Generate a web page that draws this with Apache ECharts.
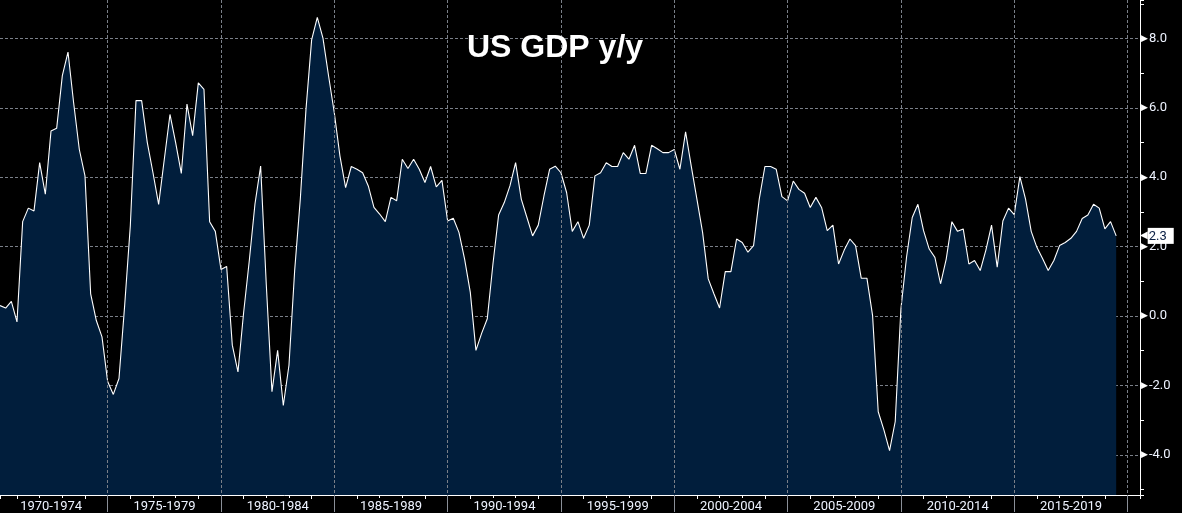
<!DOCTYPE html>
<html>
<head>
<meta charset="utf-8">
<script src="https://cdn.jsdelivr.net/npm/echarts@6/dist/echarts.min.js"></script>
<style>
html,body{margin:0;padding:0;background:#000;}
#chart{width:1182px;height:513px;}
</style>
</head>
<body>
<div id="chart"></div>
<script>
// US real GDP, % change year over year, quarterly from 1970 Q1 to 2019 Q2
const firstYear = 1970;
const gdpYoY = [
  0.30, 0.23, 0.42, -0.17,   // 1970
  2.72, 3.11, 3.03, 4.42,    // 1971
  3.51, 5.33, 5.41, 6.93,    // 1972
  7.61, 6.14, 4.80, 4.04,    // 1973
  0.64, -0.13, -0.60, -1.89, // 1974
  -2.26, -1.80, 0.30, 2.60,  // 1975
  6.21, 6.21, 5.00, 4.13,    // 1976
  3.22, 4.52, 5.81, 5.00,    // 1977
  4.11, 6.11, 5.20, 6.72,    // 1978
  6.53, 2.72, 2.44, 1.34,    // 1979
  1.43, -0.84, -1.61, 0.10,  // 1980
  1.60, 3.23, 4.32, 0.90,    // 1981
  -2.18, -0.99, -2.58, -1.42,// 1982
  1.30, 3.37, 5.95, 7.96,    // 1983
  8.61, 8.01, 6.91, 5.86,    // 1984
  4.61, 3.70, 4.31, 4.23,    // 1985
  4.13, 3.75, 3.13, 2.94,    // 1986
  2.72, 3.42, 3.32, 4.52,    // 1987
  4.25, 4.52, 4.23, 3.85,    // 1988
  4.31, 3.72, 3.91, 2.74,    // 1989
  2.82, 2.41, 1.64, 0.69,    // 1990
  -0.99, -0.50, -0.08, 1.50, // 1991
  2.91, 3.27, 3.75, 4.42,    // 1992
  3.37, 2.84, 2.31, 2.62,    // 1993
  3.46, 4.23, 4.32, 4.13,    // 1994
  3.56, 2.44, 2.72, 2.24,    // 1995
  2.62, 4.04, 4.13, 4.42,    // 1996
  4.31, 4.31, 4.71, 4.52,    // 1997
  4.92, 4.11, 4.11, 4.92,    // 1998
  4.82, 4.71, 4.71, 4.80,    // 1999
  4.23, 5.31, 4.32, 3.37,    // 2000
  2.41, 1.07, 0.64, 0.23,    // 2001
  1.28, 1.28, 2.22, 2.12,    // 2002
  1.84, 2.03, 3.37, 4.31,    // 2003
  4.31, 4.23, 3.44, 3.32,    // 2004
  3.89, 3.65, 3.54, 3.13,    // 2005
  3.42, 3.13, 2.46, 2.62,    // 2006
  1.50, 1.90, 2.22, 2.03,    // 2007
  1.09, 1.09, 0.02, -2.76,   // 2008
  -3.28, -3.88, -3.04, 0.20, // 2009
  1.70, 2.84, 3.22, 2.46,    // 2010
  1.93, 1.69, 0.93, 1.64,    // 2011
  2.72, 2.44, 2.51, 1.50,    // 2012
  1.60, 1.31, 1.90, 2.62,    // 2013
  1.41, 2.74, 3.11, 2.92,    // 2014
  4.02, 3.37, 2.44, 1.98,    // 2015
  1.66, 1.31, 1.60, 2.03,    // 2016
  2.12, 2.24, 2.44, 2.81,    // 2017
  2.91, 3.22, 3.11, 2.51,    // 2018
  2.72, 2.31                 // 2019
];
const periodLabels = ['1970-1974','1975-1979','1980-1984','1985-1989','1990-1994',
                      '1995-1999','2000-2004','2005-2009','2010-2014','2015-2019'];
const titleText = 'US GDP y/y';

// quarter-end position in decimal years
const seriesData = gdpYoY.map((v, i) => [firstYear + (i + 1) / 4, v]);
const lastValue = gdpYoY[gdpYoY.length - 1];

const X_MIN = 1970.25, X_MAX = 2020.55;
const Y_MIN = -5.159, Y_MAX = 9.109;
const labelFont = 'Roboto';
const labelColor = '#eef3ff';
const gridDash = { color: '#7a7f88', type: [3, 2], width: 1 };

const chart = echarts.init(document.getElementById('chart'), null, { renderer: 'canvas' });
chart.setOption({
  backgroundColor: '#000000',
  animation: false,
  title: {
    text: titleText,
    left: 467, top: 32, padding: 0,
    textStyle: { color: '#ffffff', fontFamily: 'Liberation Sans', fontWeight: 'bold', fontSize: 32 }
  },
  grid: { left: 0, right: 42, top: 0, bottom: 16, containLabel: false },
  xAxis: [
    {
      type: 'value', min: X_MIN, max: X_MAX, splitNumber: 10, position: 'bottom', z: 3,
      axisLine: { show: true, onZero: false, lineStyle: { color: '#ffffff', width: 1 } },
      axisTick: { show: true, length: 17, lineStyle: { color: '#8a8f98', width: 1 } },
      splitLine: { show: true, showMinLine: false, showMaxLine: false, lineStyle: gridDash },
      axisLabel: {
        show: true, showMinLabel: false, showMaxLabel: false,
        margin: 3, align: 'center', padding: [0, 113, 0, 0],
        formatter: function (v) {
          const k = Math.round((v - 1975) / 5);
          if (Math.abs(v - (1975 + 5 * k)) > 1e-6 || k < 0 || k >= periodLabels.length) return '';
          return '{p|' + periodLabels[k] + '}';
        },
        rich: { p: { color: labelColor, fontFamily: labelFont, fontSize: 13, backgroundColor: '#000000', padding: [2, 1, 0, 1] } }
      }
    },
    {
      type: 'value', min: X_MIN, max: X_MAX, splitNumber: 50, position: 'bottom', z: 2,
      axisLine: { show: false, onZero: false },
      axisTick: { show: true, length: 4, lineStyle: { color: '#ffffff', width: 1 } },
      splitLine: { show: false },
      axisLabel: { show: false }
    }
  ],
  yAxis: [
    {
      type: 'value', min: Y_MIN, max: Y_MAX, splitNumber: 7, position: 'right',
      axisLine: { show: true, onZero: false, lineStyle: { color: '#ffffff', width: 1 } },
      axisTick: { show: false },
      splitLine: { show: true, showMinLine: false, showMaxLine: false, lineStyle: gridDash },
      axisLabel: {
        show: true, showMinLabel: false, showMaxLabel: false, margin: 1,
        formatter: function (v) {
          if (Math.abs(v / 2 - Math.round(v / 2)) > 1e-6) return '';
          return '{t|\u25B6}{v|' + v.toFixed(1) + '}';
        },
        rich: {
          t: { color: '#ffffff', fontFamily: 'DejaVu Sans', fontSize: 9 },
          v: { color: labelColor, fontFamily: labelFont, fontSize: 13, padding: [0, 0, 0, 1] }
        }
      }
    },
    {
      type: 'value', min: Y_MIN, max: Y_MAX, splitNumber: 14, position: 'right',
      axisLine: { show: false, onZero: false },
      axisTick: { show: true, length: 4, lineStyle: { color: '#ffffff', width: 1 } },
      splitLine: { show: false },
      axisLabel: { show: false }
    }
  ],
  series: [
    {
      type: 'line',
      xAxisIndex: 0, yAxisIndex: 0,
      data: seriesData,
      showSymbol: false, symbol: 'none',
      lineStyle: { color: '#ffffff', width: 1.1 },
      areaStyle: { color: '#011e3c', opacity: 1, origin: 'start' },
      z: 2,
      markLine: {
        silent: true, symbol: 'none', animation: false,
        lineStyle: { color: 'rgba(0,0,0,0)', width: 0 },
        label: {
          show: true, position: 'end', distance: 0,
          formatter: function () { return '{a|\u25C0}{b|' + lastValue.toFixed(1) + '}'; },
          rich: {
            a: { color: '#ffffff', fontFamily: 'DejaVu Sans', fontSize: 10 },
            b: { color: '#0a1f44', backgroundColor: '#ffffff', fontFamily: labelFont, fontSize: 13, padding: [2, 7, 1, 1] }
          }
        },
        data: [{ yAxis: lastValue }]
      }
    }
  ]
});
</script>
</body>
</html>
